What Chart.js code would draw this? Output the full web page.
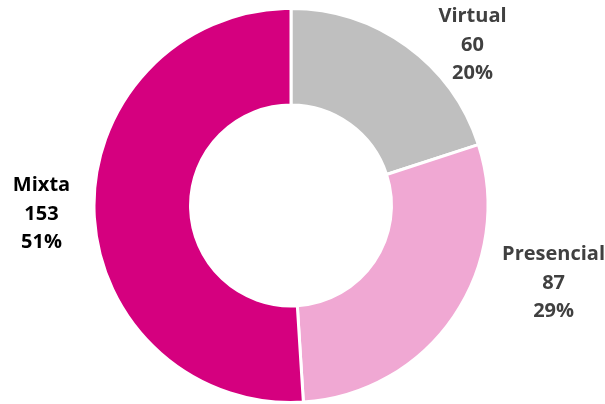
<!DOCTYPE html>
<html><head><meta charset="utf-8">
<script src="https://cdn.jsdelivr.net/npm/chart.js@4/dist/chart.umd.min.js"></script>
<style>html,body{margin:0;padding:0;background:#fff}#w{width:605px;height:404px}</style>
</head><body><div id="w"><canvas id="c"></canvas></div>
<script>
const categories = ["Virtual", "Presencial", "Mixta"];
const values = [60, 87, 153];
const percentLabels = ["20%", "29%", "51%"];
const colors = ["#BFBFBF", "#F0A8D3", "#D5007F"];
const labelColors = ["#404040", "#404040", "#000000"];

// label anchor placement (fraction of canvas width / height) for each slice
const labelAnchors = [[0.781, 0.108], [0.915, 0.698], [0.0686, 0.527]];

const labelPlugin = {
  id: 'outLabels',
  afterDatasetsDraw(chart) {
    const ctx = chart.ctx;
    const meta = chart.getDatasetMeta(0);
    ctx.save();
    ctx.font = 'bold 20px "Open Sans", Lato, sans-serif';
    ctx.textAlign = 'center';
    ctx.textBaseline = 'alphabetic';
    meta.data.forEach((arc, i) => {
      const x = labelAnchors[i][0] * chart.width;
      const y = labelAnchors[i][1] * chart.height;
      ctx.fillStyle = labelColors[i];
      const lines = [categories[i], String(values[i]), percentLabels[i]];
      lines.forEach((t, k) => ctx.fillText(t, x, y + 7 + (k - 1) * 28.5));
    });
    ctx.restore();
  }
};

new Chart(document.getElementById('c'), {
  type: 'doughnut',
  data: {
    labels: categories,
    datasets: [{
      data: values,
      backgroundColor: colors,
      borderColor: '#ffffff',
      borderWidth: 3,
      hoverOffset: 0
    }]
  },
  options: {
    responsive: true,
    maintainAspectRatio: false,
    animation: false,
    cutout: '51%',
    layout: { padding: { left: 0, right: 23, top: 7, bottom: 0 } },
    plugins: { legend: { display: false }, tooltip: { enabled: false } }
  },
  plugins: [labelPlugin]
});
</script>
</body></html>
